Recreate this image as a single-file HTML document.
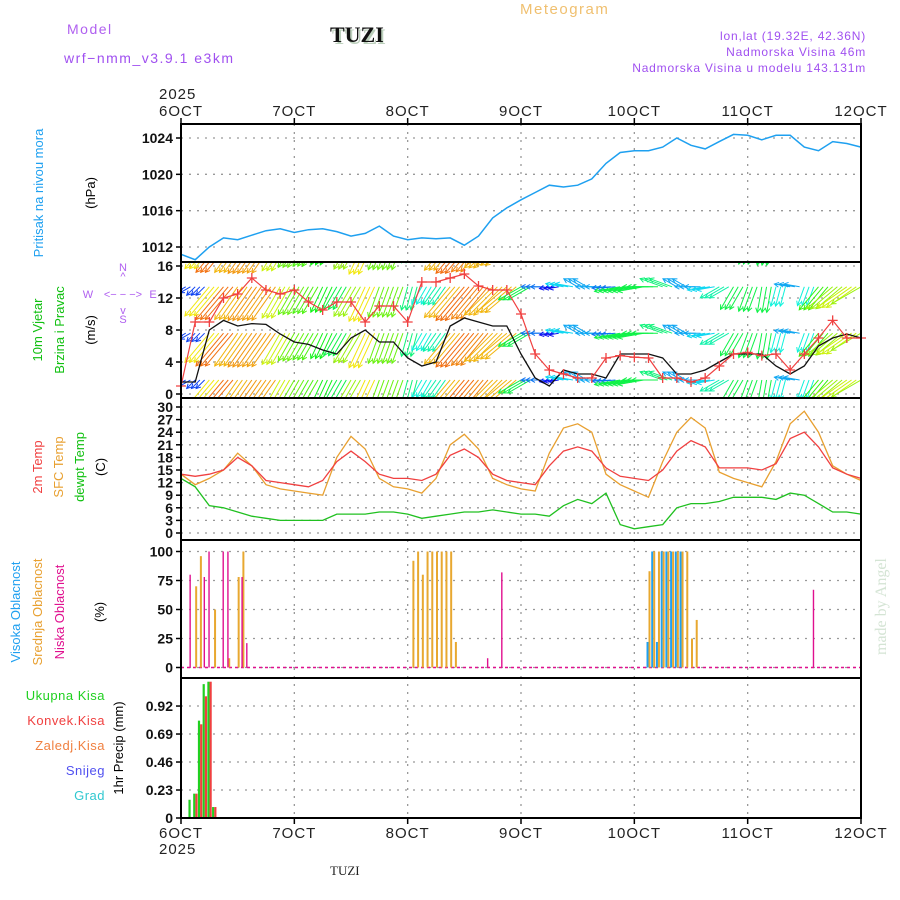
<!DOCTYPE html>
<html><head><meta charset="utf-8"><style>
html,body{margin:0;padding:0;background:#fff;}
svg{display:block;font-family:"Liberation Sans",sans-serif;}
</style></head><body>
<svg id="c" width="900" height="900" viewBox="0 0 900 900">
<defs><clipPath id="wclip"><rect x="181" y="262" width="680" height="136"/></clipPath></defs>
<g id="hdr">
<text x="67" y="34" font-size="14" fill="#b060f0" letter-spacing="1.5">Model</text>
<text x="64" y="63" font-size="14" fill="#a050f0" letter-spacing="1.5">wrf−nmm_v3.9.1 e3km</text>
<text x="332" y="44" font-size="22" font-weight="bold" font-family="Liberation Serif,serif" fill="#bcd0bc">TUZI</text>
<text x="330" y="42" font-size="22" font-weight="bold" font-family="Liberation Serif,serif" fill="#111">TUZI</text>
<text x="520" y="14" font-size="15" fill="#f0c070" letter-spacing="1.5">Meteogram</text>
<text x="866" y="40" font-size="12" fill="#a050f0" text-anchor="end" letter-spacing="0.8">lon,lat (19.32E, 42.36N)</text>
<text x="866" y="56" font-size="12" fill="#a050f0" text-anchor="end" letter-spacing="0.8">Nadmorska Visina 46m</text>
<text x="866" y="72" font-size="12" fill="#a050f0" text-anchor="end" letter-spacing="0.8">Nadmorska Visina u modelu 143.131m</text>
<text x="159" y="99" font-size="15" fill="#222" letter-spacing="1">2025</text>
<text x="159" y="854" font-size="15" fill="#222" letter-spacing="1">2025</text>
<text x="330" y="875" font-size="13" font-family="Liberation Serif,serif" fill="#222">TUZI</text>
<text transform="translate(886,655) rotate(-90)" font-size="16" font-family="Liberation Serif,serif" fill="#d4e4d4">made by Angel</text>
</g>
<g id="grid"></g>
<g id="marks"></g>
<g id="labels">
<text transform="translate(43,193) rotate(-90)" font-size="13" fill="#1ea0f0" text-anchor="middle">Pritisak na nivou mora</text>
<text transform="translate(95,193) rotate(-90)" font-size="13" fill="#000" text-anchor="middle">(hPa)</text>
<text transform="translate(42,330) rotate(-90)" font-size="13" fill="#10c010" text-anchor="middle">10m Vjetar</text>
<text transform="translate(64,330) rotate(-90)" font-size="13" fill="#10c010" text-anchor="middle">Brzina i Pravac</text>
<text transform="translate(95,330) rotate(-90)" font-size="13" fill="#000" text-anchor="middle">(m/s)</text>
<g fill="#b060f0" font-size="11" text-anchor="middle">
<text x="123" y="271">N</text><text x="123" y="280">^</text>
<text x="88" y="298">W</text><text x="123" y="298">&lt;− − −&gt;</text><text x="153" y="298">E</text>
<text x="123" y="314">v</text><text x="123" y="323">S</text></g>
<text transform="translate(42,467) rotate(-90)" font-size="13" fill="#f04040" text-anchor="middle">2m Temp</text>
<text transform="translate(63,467) rotate(-90)" font-size="13" fill="#e8a030" text-anchor="middle">SFC Temp</text>
<text transform="translate(84,467) rotate(-90)" font-size="13" fill="#10c010" text-anchor="middle">dewpt Temp</text>
<text transform="translate(105,467) rotate(-90)" font-size="13" fill="#000" text-anchor="middle">(C)</text>
<text transform="translate(20,612) rotate(-90)" font-size="13" fill="#20a0f0" text-anchor="middle">Visoka Oblacnost</text>
<text transform="translate(42,612) rotate(-90)" font-size="13" fill="#e8a030" text-anchor="middle">Srednja Oblacnost</text>
<text transform="translate(64,612) rotate(-90)" font-size="13" fill="#e0108f" text-anchor="middle">Niska Oblacnost</text>
<text transform="translate(104,612) rotate(-90)" font-size="13" fill="#000" text-anchor="middle">(%)</text>
<g font-size="13" text-anchor="end" letter-spacing="0.5">
<text x="105" y="700" fill="#20d020">Ukupna Kisa</text>
<text x="105" y="725" fill="#f04040">Konvek.Kisa</text>
<text x="105" y="750" fill="#f08040">Zaledj.Kisa</text>
<text x="105" y="775" fill="#5050f0">Snijeg</text>
<text x="105" y="800" fill="#30c8d0">Grad</text>
</g>
<text transform="translate(123,748) rotate(-90)" font-size="13" fill="#000" text-anchor="middle">1hr Precip (mm)</text>
</g>
<g id="frames"></g>
</svg>
<script>
// ---- data (3-hourly from 6 OCT 00 UTC) ----
const dayLabels = ["6OCT","7OCT","8OCT","9OCT","10OCT","11OCT","12OCT"];
const pressure = [1011.2,1010.6,1012,1013,1012.8,1013.3,1013.8,1014,1013.6,1013.9,1014,1013.7,1013.2,1013.5,1014.3,1013.2,1012.8,1013,1012.9,1013,1012.2,1013.2,1015.2,1016.3,1017.2,1018,1018.8,1018.6,1018.8,1019.5,1021.2,1022.4,1022.6,1022.6,1023,1024,1023.2,1022.8,1023.6,1024.4,1024.3,1023.8,1024.3,1024.3,1023,1022.6,1023.6,1023.4,1023];
const windSpeed = [1.5,1.5,8,9.2,8.5,8.8,8.7,7.5,6.5,6.2,5.5,5,7,8,6.5,6.5,4.5,3.5,4,8.5,9.5,9,8.5,8.5,5,2,1,3,2.5,2.5,2,5,5,5,4.5,2.5,2.5,3,4,5,5,5,3.5,2.5,3.5,6,7,7.5,7];
const windGust = [1,9,9,12,12.5,14.5,13,12.5,13,11.5,10.5,11.5,11.5,9,11,11,9,14,14,14.5,15,13.5,13,13,10,5,3,2.5,2,2,4.5,4.8,4.6,4.5,2,2,1.5,2,3.5,5,5.2,4.8,5,3,5,7,9.2,7,7];
const windDir = [60,45,40,40,35,35,35,30,30,30,25,30,30,25,20,20,15,30,35,40,40,40,45,50,60,90,80,100,120,90,85,80,80,90,110,120,90,80,60,30,20,10,15,100,20,40,50,55,60];
const temp2m = [14,13.5,14,15,18,16,12.5,12,11.5,11,12.5,17,19.5,17,14,13,13,12.5,14,18.5,20,18,14,12.5,12,11.5,16,19.5,20.5,19.5,15.5,13.5,13,12.5,15,19.5,22,20.5,15.5,15.5,15.5,15,16.5,22.5,24,20.5,15.5,14,13];
const tempSfc = [14,11.5,13,15,19,16,11.5,10.5,10,9.5,9,18,23,20,13,11,10.5,9.5,13,21,23.5,20,13,11.5,10.5,10,19,25,26,24,14,11.5,10,8.5,17,24,27.5,25,14.5,13,12,11,17,26,29,24,16,14,12.5];
const dewpt = [13,11,6.5,6,5,4,3.5,3,3,3,3,4.5,4.5,4.5,5,5,4.5,3.5,4,4.5,5,5,5.5,5,4.5,4.5,4,6.5,8,7,9.5,2,1,1.5,2,6,7,7,7.5,8.5,8.5,8.5,8,9.5,9,7,5,5,4.5];
// clouds (hour index, %)
const lowHours = [2,5,6,9,10,13,14,65,68,134];
const lowVals  = [80,78,100,100,100,78,21,8,82,67];
const midHours = [3,4,7,10,12,13,49,50,51,52,53,54,55,56,57,58,99,100,101,102,103,104,105,106,107,108,109];
const midVals  = [70,96,50,8,78,100,92,100,80,100,100,100,100,100,100,22,83,100,100,100,100,100,100,100,100,25,41];
const highHours = [99,100,101,102,103,104,105,106];
const highVals  = [22,100,22,100,100,100,100,100];
// precipitation (hour index, mm)
const rainHours = [2,3,4,5,6,7];
const rainTotal = [0.15,0.2,0.8,1.1,1.12,0.09];
const rainConv  = [0.0,0.2,0.77,1.0,1.12,0.09];
const pTicks = [1012,1016,1020,1024];
const wTicks = [0,4,8,12,16];
const tTicks = [0,3,6,9,12,15,18,21,24,27,30];
const cTicks = [0,25,50,75,100];
const rTicks = [0,0.23,0.46,0.69,0.92];

const NS="http://www.w3.org/2000/svg";
const X0=181,X1=861;
const xH=h=>X0+h*(X1-X0)/144;
const P={pres:[124,262],wind:[262,398],temp:[398,540],cld:[540,678],rain:[678,818]};
const yP=v=>138+(1024-v)*(247-138)/12;
const yW=v=>394-v*8;
const yT=v=>533-v*4.2;
const yC=v=>667.5-v*1.16;
const yR=v=>818-v*121.7;
function el(tag,attrs,parent){const e=document.createElementNS(NS,tag);for(const k in attrs)e.setAttribute(k,attrs[k]);(parent||document.getElementById('marks')).appendChild(e);return e;}
const grid=document.getElementById('grid'),frames=document.getElementById('frames');

function hgrid(ticks,yf,fmt,name){
  ticks.forEach(t=>{const y=yf(t);
    const g=el('line',{x1:X0,x2:X1,y1:y,y2:y,stroke:'#999','stroke-dasharray':'2,6','stroke-width':1.3},grid);
    
    el('line',{x1:X0-5,x2:X0,y1:y,y2:y,stroke:'#000','stroke-width':1.5},frames);
    const tx=el('text',{x:X0-8,y:y+5,'font-size':14,'font-weight':'bold','text-anchor':'end',fill:'#111'},frames);
    tx.textContent=fmt(t);
    
  });
}
hgrid(pTicks,yP,t=>t,'pressure');
hgrid(wTicks,yW,t=>t,'wind');
hgrid(tTicks,yT,t=>t,'temp');
hgrid(cTicks,yC,t=>t,'cloud');
hgrid(rTicks,yR,t=>t===0?'0':t.toFixed(2),'precip');
dayLabels.forEach((d,i)=>{const x=xH(i*24);
  if(i>0&&i<6){const g=el('line',{x1:x,x2:x,y1:124,y2:818,stroke:'#999','stroke-dasharray':'2,6','stroke-width':1.3},grid);
  }
  el('line',{x1:x,x2:x,y1:118,y2:124,stroke:'#000','stroke-width':1.5},frames);
  el('line',{x1:x,x2:x,y1:818,y2:824,stroke:'#000','stroke-width':1.5},frames);
  const t1=el('text',{x:x,y:116,'font-size':15,'text-anchor':'middle',fill:'#222','letter-spacing':1},frames);t1.textContent=d;
  
  const t2=el('text',{x:x,y:838,'font-size':15,'text-anchor':'middle',fill:'#222','letter-spacing':1},frames);t2.textContent=d;
  
});
for(const k in P){const r=el('rect',{x:X0,y:P[k][0],width:X1-X0,height:P[k][1]-P[k][0],fill:'none',stroke:'#000','stroke-width':2},frames);
  }

function line(arr,yf,color,name,w){
  const pts=arr.map((v,i)=>xH(i*3).toFixed(1)+','+yf(v).toFixed(1)).join(' ');
  const p=el('polyline',{points:pts,fill:'none',stroke:color,'stroke-width':w||1.3});
  return p;
}
line(pressure,yP,'#1ea0f0','pressure-line',1.5);

const wg=el('g',{'clip-path':'url(#wclip)'});

const rows=[1.75,7.6,13.4,19.3];
windSpeed.forEach((s,i)=>{
  const to=(windDir[i]+180)*Math.PI/180, L=s*4+6;
  const hue=Math.max(25,Math.min(270,265-s*26));
  const col='hsl('+hue+',90%,50%)';
  for(let sub=0;sub<3;sub++){const h=i*3+sub; if(h>144)break; const x=xH(h);
    rows.forEach(r=>{const y=yW(r),dx=L*Math.sin(to),dy=-L*Math.cos(to);
      const a=el('line',{x1:x,y1:y,x2:x+dx,y2:y+dy,stroke:col,'stroke-width':1},wg);
      
      const ang=Math.atan2(dy,dx),hx=x+dx,hy=y+dy;
      el('polyline',{points:(hx-5*Math.cos(ang-0.5))+','+(hy-5*Math.sin(ang-0.5))+' '+hx+','+hy+' '+(hx-5*Math.cos(ang+0.5))+','+(hy-5*Math.sin(ang+0.5)),fill:'none',stroke:col,'stroke-width':1},wg);
    });}
});
line(windSpeed,yW,'#111','wind-speed-line',1.3);
line(windGust,yW,'#f04040','wind-gust-line',1.2);
windGust.forEach((v,i)=>{const x=xH(i*3),y=yW(v);
  const m=el('path',{d:`M${x-5},${y}H${x+5}M${x},${y-5}V${y+5}`,stroke:'#f04040','stroke-width':1.3});
  });

line(tempSfc,yT,'#e8a030','sfc-temp-line',1.3);
line(temp2m,yT,'#f04040','temp-2m-line',1.3);
line(dewpt,yT,'#20c020','dewpt-line',1.3);

el('line',{x1:X0,x2:X1,y1:yC(0),y2:yC(0),stroke:'#e0108f','stroke-width':1.5,'stroke-dasharray':'3,3'});
function bars(hours,vals,yf,color,off,w,name){
  hours.forEach((h,i)=>{const x=xH(h)+off,y=yf(vals[i]),y0=yf(0);
    const b=el('rect',{x:x,y:y,width:w,height:Math.max(0,y0-y),fill:color});
    });
}
bars(highHours,highVals,yC,'#20a0f0',-2,2,'high-cloud-bar');
bars(midHours,midVals,yC,'#e8a830',0,2,'mid-cloud-bar');
bars(lowHours,lowVals,yC,'#e0108f',-1,1.4,'low-cloud-bar');
bars(rainHours,rainTotal,yR,'#20d020',-2,2.2,'total-rain-bar');
bars(rainHours,rainConv,yR,'#f04040',0.2,2.2,'conv-rain-bar');
</script>
</body></html>
